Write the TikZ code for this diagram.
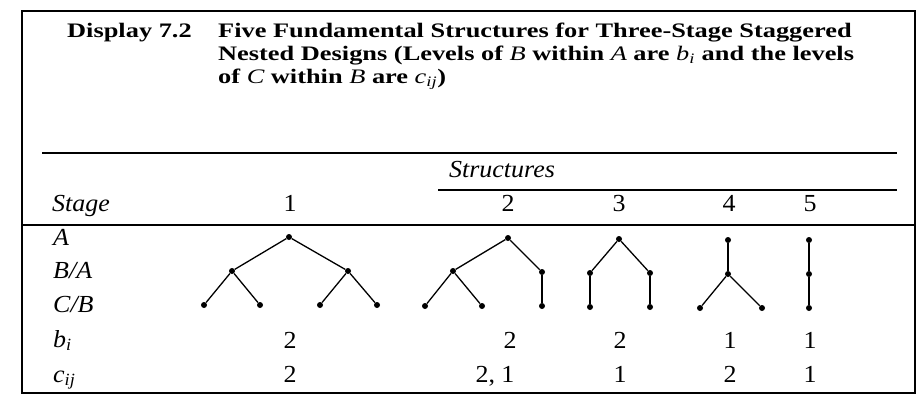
\documentclass[tikz,border=0pt]{standalone}
\usepackage{fontspec}
\setmainfont{Liberation Serif}
\newcommand{\wx}[1]{\scalebox{1.28}[1]{#1}}
\newcommand{\wy}[1]{\scalebox{1.06}[1]{#1}}
\newcommand{\ttlfont}{\fontsize{20.6}{23}\selectfont\bfseries}
\newcommand{\tabfont}{\fontsize{24.5}{26}\selectfont}
\newcommand{\mi}[1]{{\mdseries\itshape #1}}
\begin{document}
\begin{tikzpicture}[x=1pt,y=-1pt,
  dot/.style={circle, fill=black, inner sep=0pt, minimum size=6pt},
  edge/.style={line width=1.3pt},
  rulex/.style={line width=1.2pt},
  frame/.style={line width=1.7pt},
  ttl/.style={inner sep=0pt, anchor=base west, font=\ttlfont},
  lbl/.style={inner sep=0pt, anchor=base west, font=\tabfont},
  val/.style={inner sep=0pt, anchor=base, font=\tabfont}]
\useasboundingbox (0,0) rectangle (919,394);
% frame
\draw[frame] (22,11) rectangle (915,393);
% title
\node[ttl] (disp) at (67,37) {\wx{Display 7.2}};
\node[ttl] (tl1) at (218,37) {\wx{Five Fundamental Structures for Three-Stage Staggered}};
\node[ttl] (tl2) at (218,60) {\wx{Nested Designs (Levels of \mi{B} within \mi{A} are \mi{b}\textsubscript{\mi{i}} and the levels}};
\node[ttl] (tl3) at (218,83) {\wx{of \mi{C} within \mi{B} are \mi{c}\textsubscript{\mi{ij}})}};
% rules
\draw[rulex] (42,153) -- (897,153);
\draw[rulex] (438,190) -- (897,190);
\draw[rulex] (22,225) -- (915,225);
% header
\node[val] (struct) at (502,177) {\wy{\itshape Structures}};
\node[lbl] (stage) at (52,211) {\wy{\itshape Stage}};
\node[val] (h1) at (290,211) {\wy{1}};
\node[val] (h2) at (508,211) {\wy{2}};
\node[val] (h3) at (619,211) {\wy{3}};
\node[val] (h4) at (729,211) {\wy{4}};
\node[val] (h5) at (810,211) {\wy{5}};
% row labels
\node[lbl] (rA) at (53,245) {\wy{\itshape A}};
\node[lbl] (rBA) at (53,278) {\wy{\itshape B/A}};
\node[lbl] (rCB) at (53,312) {\wy{\itshape C/B}};
\node[lbl] (rb) at (53,347) {\wy{\itshape b\textsubscript{i}}};
\node[lbl] (rc) at (53,382) {\wy{\itshape c\textsubscript{ij}}};
% values
\node[val] (b1) at (290,348) {\wy{2}};
\node[val] (b2) at (510,348) {\wy{2}};
\node[val] (b3) at (620,348) {\wy{2}};
\node[val] (b4) at (730,348) {\wy{1}};
\node[val] (b5) at (810,348) {\wy{1}};
\node[val] (c1) at (290,382) {\wy{2}};
\node[val] (c2) at (495,382) {\wy{2, 1}};
\node[val] (c3) at (620,382) {\wy{1}};
\node[val] (c4) at (730,382) {\wy{2}};
\node[val] (c5) at (810,382) {\wy{1}};
% tree 1
\node[dot] (a1) at (289,237) {};
\node[dot] (m11) at (232,271) {};
\node[dot] (m12) at (348,271) {};
\node[dot] (l11) at (204,305) {};
\node[dot] (l12) at (260,305) {};
\node[dot] (l13) at (320,305) {};
\node[dot] (l14) at (377,305) {};
\draw[edge] (m11) -- (a1) -- (m12);
\draw[edge] (l11) -- (m11) -- (l12);
\draw[edge] (l13) -- (m12) -- (l14);
% tree 2
\node[dot] (a2) at (508,238) {};
\node[dot] (m21) at (453,271) {};
\node[dot] (m22) at (542,272) {};
\node[dot] (l21) at (425,306) {};
\node[dot] (l22) at (482,306) {};
\node[dot] (l23) at (542,306) {};
\draw[edge] (m21) -- (a2) -- (m22);
\draw[edge] (l21) -- (m21) -- (l22);
\draw[edge] (m22) -- (l23);
% tree 3
\node[dot] (a3) at (619,239) {};
\node[dot] (m31) at (590,273) {};
\node[dot] (m32) at (650,273) {};
\node[dot] (l31) at (590,307) {};
\node[dot] (l32) at (650,307) {};
\draw[edge] (m31) -- (a3) -- (m32);
\draw[edge] (m31) -- (l31);
\draw[edge] (m32) -- (l32);
% tree 4
\node[dot] (a4) at (728,240) {};
\node[dot] (m41) at (728,274) {};
\node[dot] (l41) at (700,308) {};
\node[dot] (l42) at (762,308) {};
\draw[edge] (a4) -- (m41);
\draw[edge] (l41) -- (m41) -- (l42);
% tree 5
\node[dot] (a5) at (809,240) {};
\node[dot] (m51) at (809,274) {};
\node[dot] (l51) at (809,308) {};
\draw[edge] (a5) -- (m51) -- (l51);
\end{tikzpicture}
\end{document}
